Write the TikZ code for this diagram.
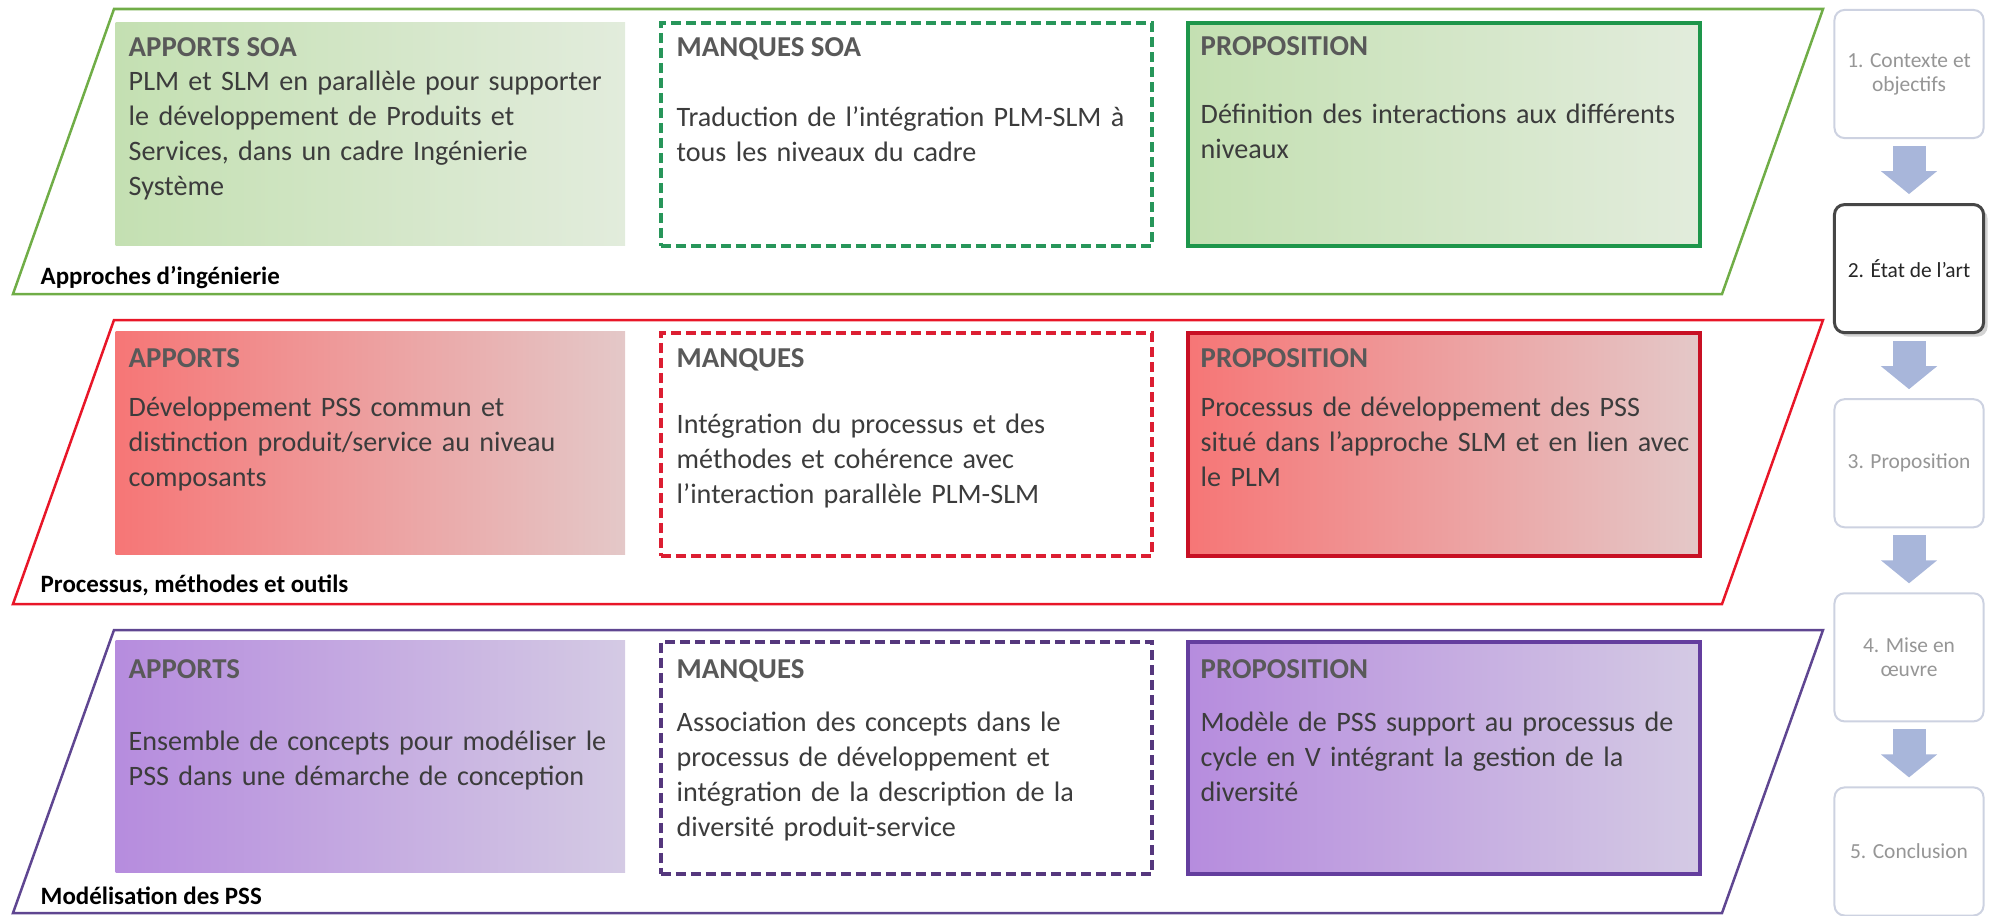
\documentclass[tikz,border=0pt]{standalone}
\usepackage{fontspec}
\setmainfont{Carlito}
\usetikzlibrary{positioning,arrows.meta,shadows}

\definecolor{grnline}{RGB}{112,173,71}
\definecolor{grndash}{RGB}{40,150,90}
\definecolor{grnbox}{RGB}{30,150,75}
\definecolor{grnA}{RGB}{196,224,178}
\definecolor{grnB}{RGB}{226,236,220}
\definecolor{redline}{RGB}{232,22,40}
\definecolor{reddash}{RGB}{220,30,50}
\definecolor{redbox}{RGB}{200,16,36}
\definecolor{redA}{RGB}{246,118,118}
\definecolor{redB}{RGB}{228,200,200}
\definecolor{purline}{RGB}{95,70,145}
\definecolor{purdash}{RGB}{85,55,125}
\definecolor{purbox}{RGB}{100,62,158}
\definecolor{purA}{RGB}{182,140,222}
\definecolor{purB}{RGB}{212,202,228}
\definecolor{headgray}{RGB}{89,89,89}
\definecolor{bodygray}{RGB}{60,60,60}
\definecolor{stepline}{RGB}{205,210,225}
\definecolor{stepgray}{RGB}{150,150,150}
\definecolor{stepdark}{RGB}{70,70,70}
\definecolor{flowblue}{RGB}{168,182,218}

\begin{document}
\begin{tikzpicture}[x=0.01cm, y=-0.01cm, node distance=0.64cm,
    every node/.style={font=\fontsize{8}{9.96}\selectfont},
    band/.style={line width=0.025cm},
    apport/.style={anchor=north west, minimum width=5.09cm, minimum height=2.23cm, inner sep=0pt},
    manque/.style={anchor=north west, draw, dash pattern=on 0.1cm off 0.05cm, line width=0.035cm, fill=white, minimum width=4.91cm, minimum height=2.23cm, inner sep=0pt},
    propo/.style={anchor=north west, draw, line width=0.04cm, minimum width=5.12cm, minimum height=2.23cm, inner sep=0pt},
    head/.style={anchor=base west, inner sep=0pt, text=headgray, font=\bfseries\fontsize{8.2}{9.96}\selectfont},
    body/.style={anchor=base west, inner sep=0pt, text=bodygray, text width=5.6cm, align=left},
    axe/.style={anchor=base west, inner sep=0pt, font=\bfseries\fontsize{7.1}{8.5}\selectfont},
    stepbox/.style={draw=stepline, line width=0.02cm, rounded corners=0.1cm, fill=white, minimum width=1.49cm, minimum height=1.28cm, inner sep=0pt, align=center, text=stepgray, font=\fontsize{6.1}{6.8}\selectfont},
    stepflow/.style={draw=flowblue, line width=0.33cm, -{Triangle[length=0.23cm,width=0.55cm]}, shorten <=0.07cm, shorten >=0.09cm}]
  \useasboundingbox (0,0) rectangle (1998,915);

  % Approches d'ingenierie
  \begin{scope}[shift={(0,9)}]
    \draw[band, draw=grnline] (114,0) -- (1823,0) -- (1722,285) -- (13,285) -- cycle;
    \node[apport, left color=grnA, right color=grnB] (app1) at (115,13) {};
    \node[head] (app1h) at (128,48) {APPORTS SOA};
    \node[body] (app1t) at (128,81) {PLM et SLM en parallèle pour supporter\\le développement de Produits et\\Services, dans un cadre Ingénierie\\Système};
    \node[manque, draw=grndash] (man1) at (659,12) {};
    \node[head] (man1h) at (676,47) {MANQUES SOA};
    \node[body] (man1t) at (676,117) {Traduction de l’intégration PLM-SLM à\\tous les niveaux du cadre};
    \node[propo, draw=grnbox, left color=grnA, right color=grnB] (pro1) at (1186,12) {};
    \node[head] (pro1h) at (1200,46) {PROPOSITION};
    \node[body] (pro1t) at (1200,114) {Définition des interactions aux différents\\niveaux};
    \node[axe] (axe1) at (40,275) {Approches d’ingénierie};
  \end{scope}

  % Processus, methodes et outils
  \begin{scope}[shift={(0,320)}]
    \draw[band, draw=redline] (114,0) -- (1823,0) -- (1722,284) -- (13,284) -- cycle;
    \node[apport, left color=redA, right color=redB] (app2) at (115,11) {};
    \node[head] (app2h) at (128,47) {APPORTS};
    \node[body] (app2t) at (128,96) {Développement PSS commun et\\distinction produit/service au niveau\\composants};
    \node[manque, draw=reddash] (man2) at (659,11) {};
    \node[head] (man2h) at (676,47) {MANQUES};
    \node[body] (man2t) at (676,113) {Intégration du processus et des\\méthodes et cohérence avec\\l’interaction parallèle PLM-SLM};
    \node[propo, draw=redbox, left color=redA, right color=redB] (pro2) at (1186,11) {};
    \node[head] (pro2h) at (1200,47) {PROPOSITION};
    \node[body] (pro2t) at (1200,96) {Processus de développement des PSS\\situé dans l’approche SLM et en lien avec\\le PLM};
    \node[axe] (axe2) at (40,272) {Processus, méthodes et outils};
  \end{scope}

  % Modelisation des PSS
  \begin{scope}[shift={(0,630)}]
    \draw[band, draw=purline] (114,0) -- (1823,0) -- (1722,283) -- (13,283) -- cycle;
    \node[apport, minimum height=2.32cm, left color=purA, right color=purB] (app3) at (115,10) {};
    \node[head] (app3h) at (128,48) {APPORTS};
    \node[body] (app3t) at (128,120) {Ensemble de concepts pour modéliser le\\PSS dans une démarche de conception};
    \node[manque, minimum height=2.32cm, draw=purdash] (man3) at (659,10) {};
    \node[head] (man3h) at (676,48) {MANQUES};
    \node[body] (man3t) at (676,101) {Association des concepts dans le\\processus de développement et\\intégration de la description de la\\diversité produit-service};
    \node[propo, minimum height=2.32cm, draw=purbox, left color=purA, right color=purB] (pro3) at (1186,10) {};
    \node[head] (pro3h) at (1200,48) {PROPOSITION};
    \node[body] (pro3t) at (1200,101) {Modèle de PSS support au processus de\\cycle en V intégrant la gestion de la\\diversité};
    \node[axe] (axe3) at (40,274) {Modélisation des PSS};
  \end{scope}

  % plan de la these
  \node[stepbox] (ctx) at (1909,74) {1. Contexte et\\objectifs};
  \node[stepbox, below=of ctx, draw=stepdark, line width=0.03cm, text=black!85,
    drop shadow={shadow xshift=0.04cm, shadow yshift=-0.04cm, opacity=0.35}] (art) {2. État de l’art};
  \node[stepbox, below=of art] (prop) {3. Proposition};
  \node[stepbox, below=of prop] (mise) {4. Mise en\\œuvre};
  \node[stepbox, below=of mise] (concl) {5. Conclusion};
  \foreach \a/\b in {ctx/art, art/prop, prop/mise, mise/concl}
    \draw[stepflow] (\a) -- (\b);
\end{tikzpicture}
\end{document}
